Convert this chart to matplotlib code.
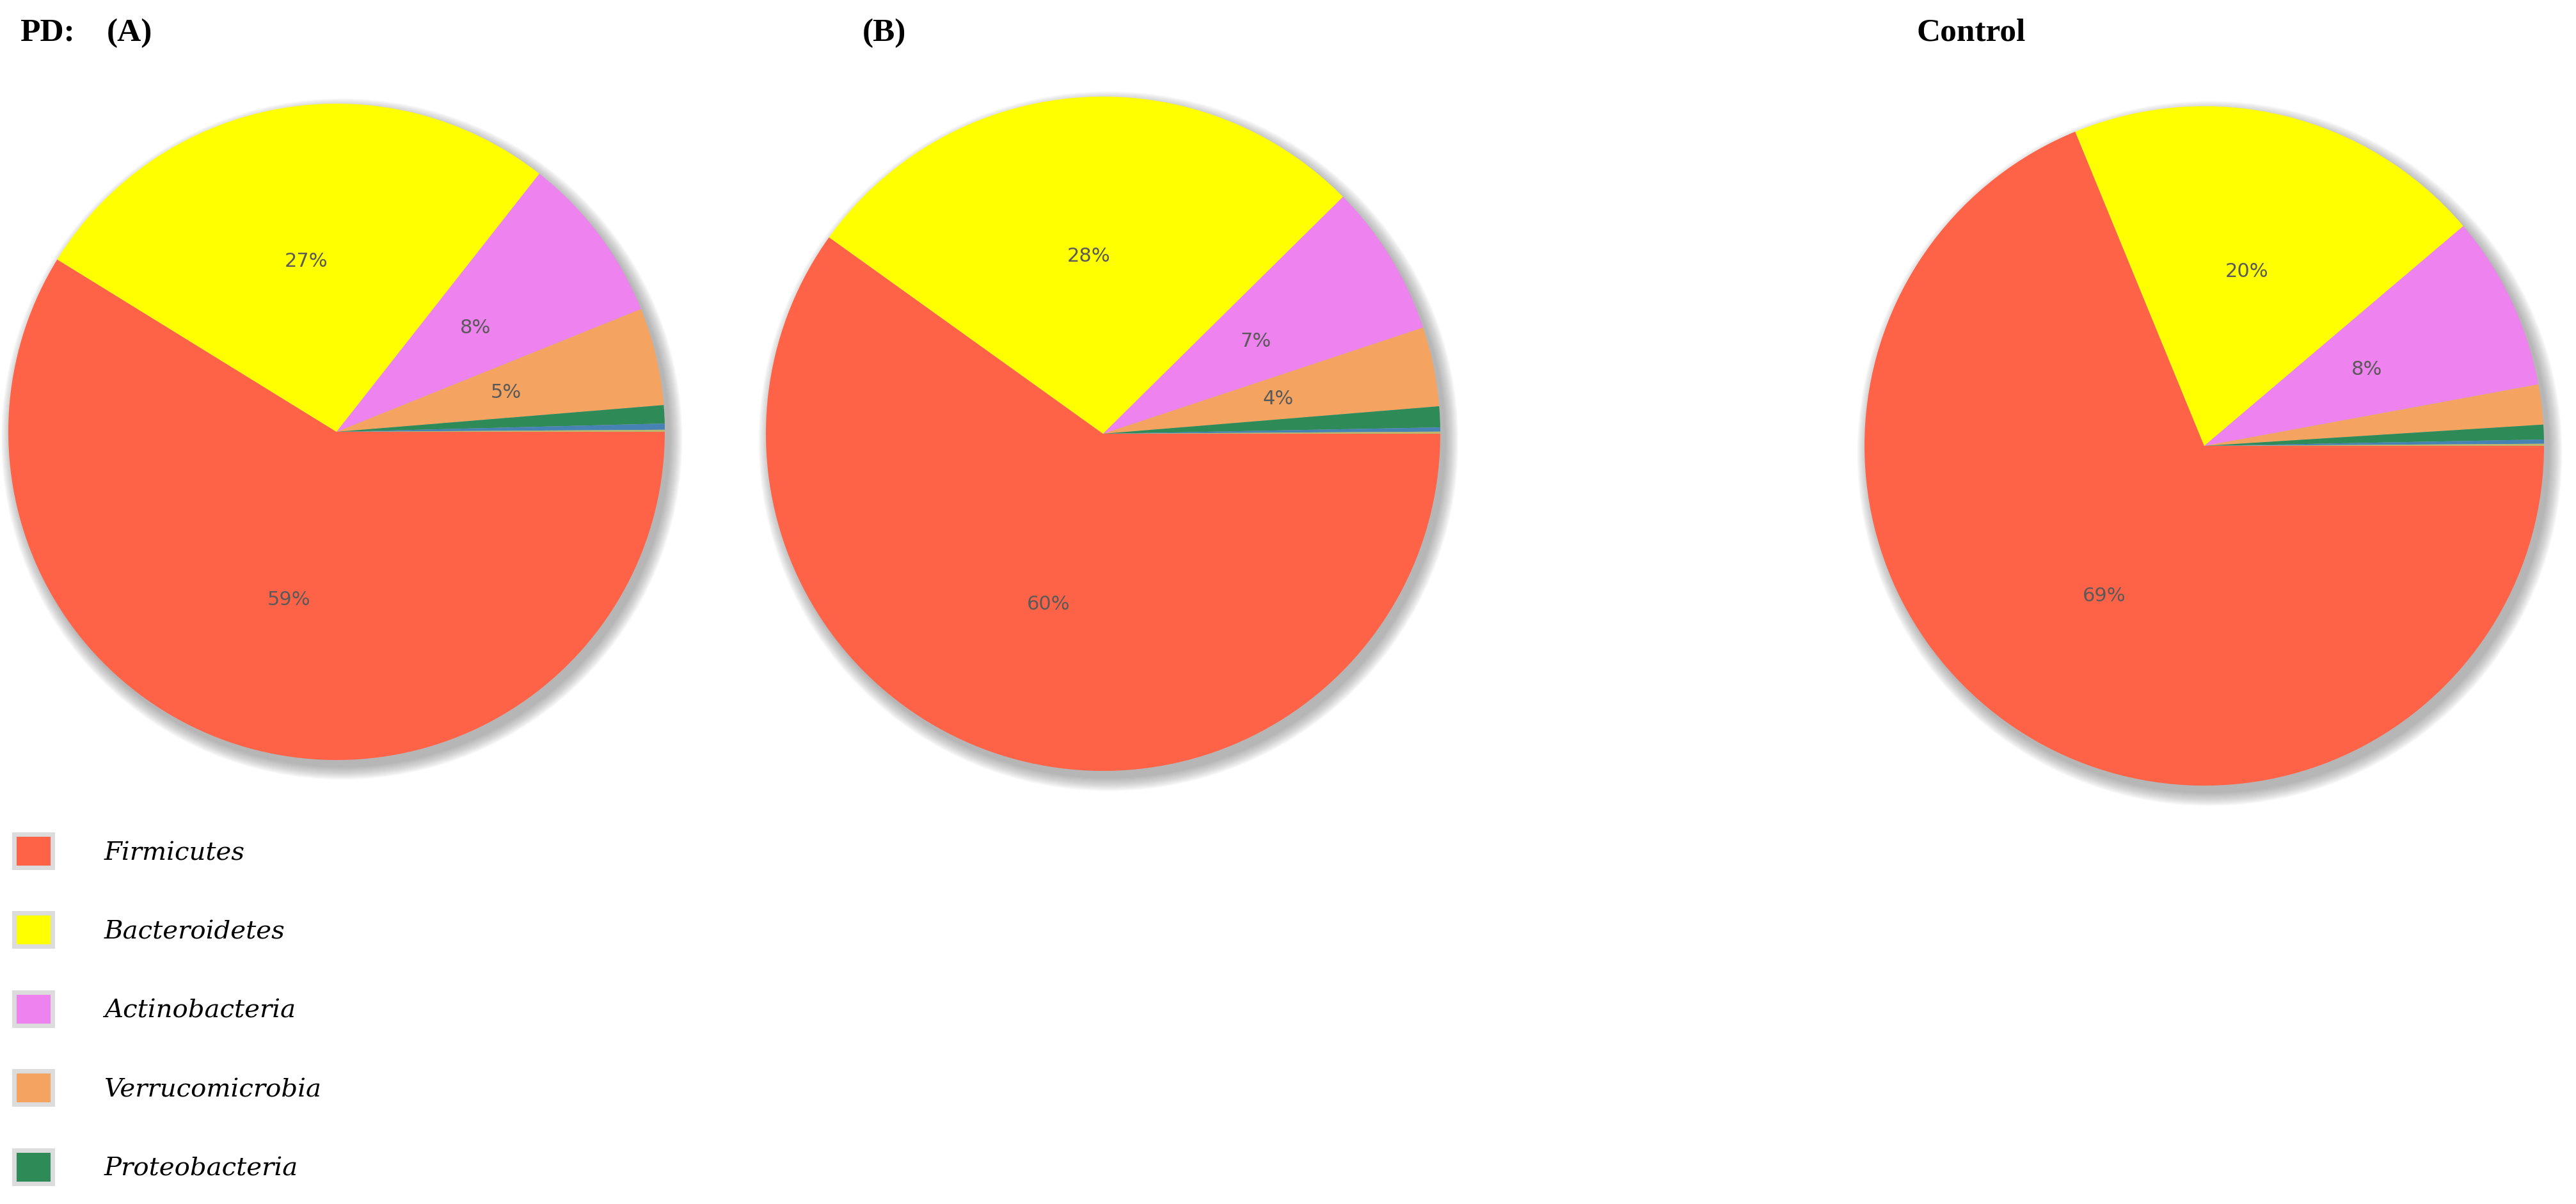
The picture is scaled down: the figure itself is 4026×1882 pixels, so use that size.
import matplotlib
matplotlib.use("Agg")
import matplotlib.pyplot as plt
from matplotlib.patches import Patch, Circle

# phylum names (legend shows the first five)
phyla = ["Firmicutes", "Bacteroidetes", "Actinobacteria", "Verrucomicrobia",
         "Proteobacteria", "Other 1", "Other 2"]
colors = ["#FF6347", "#FFFF00", "#EE82EE", "#F4A460", "#2E8B57", "#4682B4", "#BDB76B"]

# relative abundance (%)
pd_a = [58.8, 26.8, 8.3, 4.8, 0.9, 0.3, 0.1]
pd_b = [59.9, 27.7, 7.3, 3.8, 1.0, 0.2, 0.1]
control = [68.8, 20.0, 8.3, 1.9, 0.7, 0.2, 0.1]

W, H = 4026, 1883
fig = plt.figure(figsize=(W / 100, H / 100), dpi=100)
fig.patch.set_facecolor("white")


def pct_label(p):
    return f"{p:.0f}%" if p >= 3 else ""


def draw_pie(values, cx, cy, r):
    # cx, cy, r in pixels of the final image (y from top)
    ax = fig.add_axes([(cx - r) / W, (H - cy - r) / H, 2 * r / W, 2 * r / H])
    ax.axis("off")
    # soft drop shadow to the lower right
    n = 20
    for k in range(n):
        c = Circle((0.016, -0.022), 1.0 + 0.04 * k / n, facecolor="#808080",
                   edgecolor="none", alpha=0.035, zorder=0, clip_on=False)
        ax.add_patch(c)
    ax.pie(values, colors=colors, startangle=0, counterclock=False, radius=1.0,
           autopct=pct_label, pctdistance=0.53,
           wedgeprops={"linewidth": 0, "zorder": 2},
           textprops={"color": "#5a5a5a", "fontsize": 22, "family": "DejaVu Sans"})
    for t in ax.texts:
        t.set_zorder(5)
    # pie() resets the limits, so fix them afterwards
    ax.set_xlim(-1, 1)
    ax.set_ylim(-1, 1)
    ax.set_aspect("equal")
    return ax


draw_pie(pd_a, 526, 676, 513)
draw_pie(pd_b, 1724, 679, 527)
draw_pie(control, 3445, 698, 531)

# panel titles
title_font = dict(family="Liberation Serif", weight="bold", size=37, va="baseline")
base = 1 - 64 / H
fig.text(31 / W, base, "PD:", **title_font)
fig.text(167 / W, base, "(A)", **title_font)
fig.text(1348 / W, base, "(B)", **title_font)
fig.text(2996 / W, base, "Control", **title_font)

# legend
handles = [Patch(facecolor=colors[i], edgecolor="#dcdcdc", linewidth=5)
           for i in range(5)]
fig.legend(handles, phyla[:5], loc="upper left",
           bbox_to_anchor=(22 / W, 1 - 1305 / H), bbox_transform=fig.transFigure,
           frameon=False, borderpad=0, borderaxespad=0,
           prop={"family": "DejaVu Serif", "style": "italic", "size": 29},
           handlelength=1.5, handleheight=1.6, handletextpad=2.0,
           labelspacing=1.78)

fig.savefig("out.png", dpi=100, facecolor="white")
